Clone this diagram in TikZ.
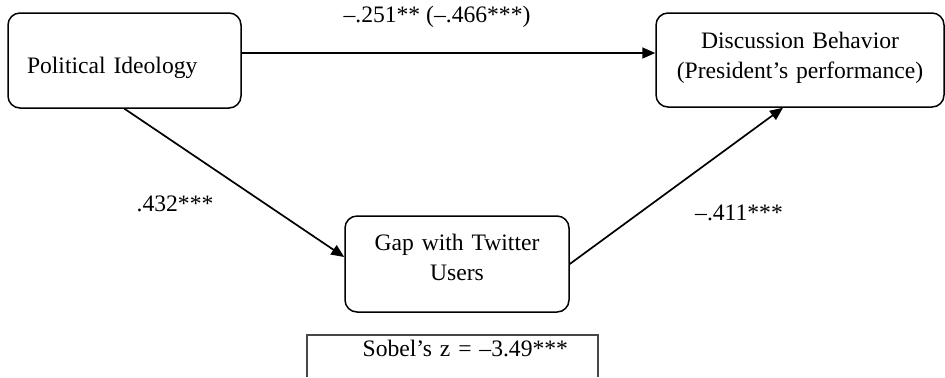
\documentclass[tikz,border=0pt]{standalone}
\usepackage{fontspec}
\setmainfont{Liberation Serif}
\usetikzlibrary{arrows.meta}

\begin{document}
\begin{tikzpicture}[x=0.5pt,y=-0.5pt,
    font=\fontsize{11.8}{15}\selectfont,
    factor/.style ={draw, rounded corners=6pt, line width=0.75pt, inner xsep=0pt, inner ysep=0pt, align=center},
    effect/.style ={line width=0.85pt, -{Triangle[length=6.5pt, width=5.5pt]}},
    coef/.style ={inner sep=0pt}]
   \useasboundingbox (0,0) rectangle (945,377);
   \node[factor, text width=97.5pt, inner xsep=9.5pt, align=left, text height=30pt, text depth=17.5pt] (ideology) at (124.5,60.5) {Political Ideology};
   \node[factor, text width=144pt, text height=17.5pt, text depth=29.5pt] (discussion) at (800,60) {Discussion Behavior\\(President’s performance)};
   \node[factor, text width=112pt, text height=17pt, text depth=31pt] (gap) at (457,264) {Gap with Twitter\\Users};
   \node[inner ysep=0pt, inner xsep=15pt, text width=115.5pt, align=right, text height=10.5pt, text depth=10.5pt] (sobel) at (452.5,356) {Sobel’s z = –3.49***};
   \draw[line width=1pt, draw=black!72] (sobel.south west) |- (sobel.north east) -- (sobel.south east);
   \draw[effect] ([yshift=3.75pt]ideology.east) -- ([yshift=3.75pt]ideology.east -| discussion.west);
   \draw[effect] (ideology.south) -- ([yshift=3.5pt]gap.west);
   \draw[effect] (gap.east) -- ([xshift=-8.5pt]discussion.south);
   \node[coef] (direct) at (437,17) {–.251** (–.466***)};
   \node[coef] (a) at (175,204) {.432***};
   \node[coef] (b) at (739,213) {–.411***};
 \end{tikzpicture}
\end{document}
